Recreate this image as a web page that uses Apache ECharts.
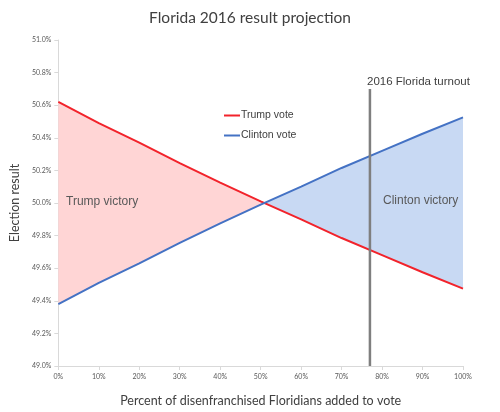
<!DOCTYPE html>
<html><head><meta charset="utf-8">
<script src="https://cdn.jsdelivr.net/npm/echarts@6/dist/echarts.min.js"></script>
<style>html,body{margin:0;padding:0;background:#fff}#c{width:500px;height:412px}</style>
</head><body><div id="c"></div>
<script>
var xPercent = [0, 10, 20, 30, 40, 50, 60, 70, 80, 90, 100];
var trumpVote = [50.62, 50.49, 50.37, 50.245, 50.125, 50.01, 49.90, 49.785, 49.68, 49.575, 49.475];
var clintonVote = [49.38, 49.51, 49.63, 49.755, 49.875, 49.99, 50.10, 50.215, 50.32, 50.425, 50.525];
var turnoutX = 77;
var turnoutRange = [49.0, 50.7];

var chart = echarts.init(document.getElementById('c'), null, {renderer: 'canvas'});

function pairs(ys) { return xPercent.map(function (x, i) { return [x, ys[i]]; }); }

function regions() {
  var pink = {top: [], bot: []}, blue = {top: [], bot: []};
  for (var i = 0; i < xPercent.length; i++) {
    var d = trumpVote[i] - clintonVote[i];
    if (d >= 0) { pink.top.push([xPercent[i], trumpVote[i]]); pink.bot.push([xPercent[i], clintonVote[i]]); }
    if (d <= 0) { blue.top.push([xPercent[i], clintonVote[i]]); blue.bot.push([xPercent[i], trumpVote[i]]); }
    if (i < xPercent.length - 1) {
      var d2 = trumpVote[i + 1] - clintonVote[i + 1];
      if (d * d2 < 0) {
        var t = d / (d - d2);
        var cx = xPercent[i] + t * (xPercent[i + 1] - xPercent[i]);
        var cy = trumpVote[i] + t * (trumpVote[i + 1] - trumpVote[i]);
        pink.top.push([cx, cy]); pink.bot.push([cx, cy]);
        blue.top.push([cx, cy]); blue.bot.push([cx, cy]);
      }
    }
  }
  blue.top.sort(function(a,b){return a[0]-b[0];});
  blue.bot.sort(function(a,b){return a[0]-b[0];});
  return {pink: pink, blue: blue};
}
var reg = regions();

function poly(api, r, color) {
  var pts = r.top.map(function (p) { return api.coord(p); });
  var bot = r.bot.slice().reverse().map(function (p) { return api.coord(p); });
  return {type: 'polygon', shape: {points: pts.concat(bot)}, style: {fill: color}, silent: true};
}

var labelFont = 'Lato';
chart.setOption({
  animation: false,
  backgroundColor: '#ffffff',
  title: {
    text: 'Florida 2016 result projection', left: 'center', top: 5,
    textStyle: {fontFamily: labelFont, fontSize: 15.5, fontWeight: 'normal', color: '#404040'}
  },
  grid: {left: 55, right: 37, top: 40, bottom: 46},
  legend: {
    data: ['Trump vote', 'Clinton vote'], orient: 'vertical', left: 219, top: 105,
    itemWidth: 16, itemHeight: 2, itemGap: 9,
    icon: 'rect',
    textStyle: {fontFamily: 'Liberation Sans', fontSize: 10.5, color: '#404040', padding: [0,0,0,-4]}
  },
  xAxis: {
    type: 'value', min: 0, max: 100, interval: 10,
    name: 'Percent of disenfranchised Floridians added to vote',
    nameLocation: 'middle', nameGap: 28,
    nameTextStyle: {fontFamily: labelFont, fontSize: 12.5, color: '#404040'},
    axisLine: {lineStyle: {color: '#d9d9d9', width: 1}},
    axisTick: {show: true, length: 4, lineStyle: {color: '#d9d9d9'}},
    axisLabel: {fontFamily: labelFont, fontSize: 7, color: '#595959', margin: 7, formatter: function (v) { return v + '%'; }},
    splitLine: {show: false}
  },
  yAxis: {
    type: 'value', min: 49.0, max: 51.0, interval: 0.2,
    name: 'Election result', nameLocation: 'middle', nameGap: 29, nameRotate: 90,
    nameTextStyle: {fontFamily: labelFont, fontSize: 12.5, color: '#404040'},
    axisLine: {show: true, lineStyle: {color: '#d9d9d9', width: 1}},
    axisTick: {show: true, length: 4, lineStyle: {color: '#d9d9d9'}},
    axisLabel: {fontFamily: labelFont, fontSize: 7, color: '#595959', margin: 7, formatter: function (v) { return v.toFixed(1) + '%'; }},
    splitLine: {show: false}
  },
  series: [
    {
      type: 'custom', name: 'areas', silent: true, z: 1,
      data: [[0, 50]],
      renderItem: function (params, api) {
        return {type: 'group', children: [poly(api, reg.pink, '#ffd5d5'), poly(api, reg.blue, '#c8d9f3')]};
      }
    },
    {
      type: 'line', name: 'Trump vote', data: pairs(trumpVote), symbol: 'none', z: 3,
      lineStyle: {color: '#f2232b', width: 2}, itemStyle: {color: '#f2232b'}
    },
    {
      type: 'line', name: 'Clinton vote', data: pairs(clintonVote), symbol: 'none', z: 3,
      lineStyle: {color: '#4472c4', width: 2}, itemStyle: {color: '#4472c4'}
    },
    {
      type: 'line', name: 'turnout', data: [[turnoutX, turnoutRange[0]], [turnoutX, turnoutRange[1]]],
      symbol: 'none', z: 4, lineStyle: {color: '#7f7f7f', width: 2.5}
    }
  ],
  graphic: [
    {type: 'text', z: 100, left: 66, top: 196, style: {text: 'Trump victory', font: '12px "Liberation Sans"', fill: '#595959'}},
    {type: 'text', z: 100, left: 383, top: 195, style: {text: 'Clinton victory', font: '12px "Liberation Sans"', fill: '#595959'}},
    {type: 'text', z: 100, left: 367, top: 76, style: {text: '2016 Florida turnout', font: '11.5px "Liberation Sans"', fill: '#404040'}}
  ]
});
</script></body></html>
